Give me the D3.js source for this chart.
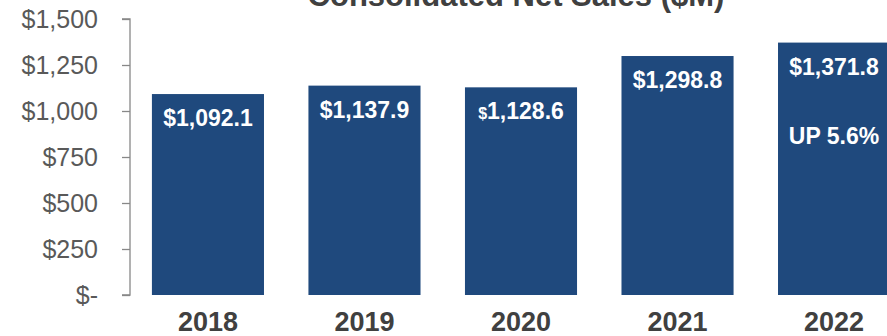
<!DOCTYPE html>
<html>
<head>
<meta charset="utf-8">
<script src="https://cdn.jsdelivr.net/npm/d3@7"></script>
<style>
  body { margin: 0; background: #fff; }
  svg { display: block; font-family: "Liberation Sans", Arial, sans-serif; }
</style>
</head>
<body>
<div id="chart"></div>
<script>
// data
const years = ['2018', '2019', '2020', '2021', '2022'];
const netSales = [1092.1, 1137.9, 1128.6, 1298.8, 1371.8];
const yTicks = [0, 250, 500, 750, 1000, 1250, 1500];
const growthNote = 'UP 5.6%';
const chartTitle = 'Consolidated Net Sales ($M)';

const width = 887, height = 336;
const barColor = '#1f497d';

const svg = d3.select('#chart').append('svg')
    .attr('width', width)
    .attr('height', height);

const x = d3.scaleBand()
    .domain(years)
    .range([130, 912])
    .paddingInner(0.284)
    .paddingOuter(0.14);

const y = d3.scaleLinear()
    .domain([0, 1500])
    .range([295, 19]);

// y axis, dollar format with "$-" for zero
const fmtTick = d => d === 0 ? '$-' : '$' + d3.format(',')(d);
const yAxis = svg.append('g')
    .attr('transform', 'translate(130,0)')
    .call(d3.axisLeft(y).tickValues(yTicks).tickFormat(fmtTick).tickSize(8).tickPadding(24));
yAxis.select('.domain').attr('stroke', '#888').attr('stroke-width', 1.3).attr('d', `M-8,${y(1500)}H0V${y(0)}H-8`);
yAxis.selectAll('.tick line').attr('stroke', '#888').attr('stroke-width', 1.3);
yAxis.selectAll('.tick text')
    .attr('fill', '#595959')
    .style('font-size', '25px')
    .attr('dy', '0.35em');

// bars
svg.selectAll('rect.bar')
  .data(netSales)
  .enter()
  .append('rect')
    .attr('class', 'bar')
    .attr('x', (d, i) => x(years[i]))
    .attr('y', d => y(d))
    .attr('width', x.bandwidth())
    .attr('height', d => y(0) - y(d))
    .attr('fill', barColor);

// value labels inside bars
const fmtVal = d3.format(',.1f');
const labels = svg.selectAll('text.val')
  .data(netSales)
  .enter()
  .append('text')
    .attr('class', 'val')
    .attr('x', (d, i) => x(years[i]) + x.bandwidth() / 2)
    .attr('y', d => y(d) + 32)
    .attr('text-anchor', 'middle')
    .attr('fill', '#fff')
    .style('font-size', '23px')
    .style('font-weight', 'bold');
labels.each(function(d, i) {
  const t = d3.select(this);
  // the 2020 label has a smaller dollar sign in the original
  t.append('tspan').style('font-size', i === 2 ? '16px' : null).text('$');
  t.append('tspan').text(fmtVal(d));
});

// growth note on last bar
const last = years.length - 1;
svg.append('text')
    .attr('x', x(years[last]) + x.bandwidth() / 2)
    .attr('y', y(netSales[last]) + 101)
    .attr('text-anchor', 'middle')
    .attr('fill', '#fff')
    .style('font-size', '23px')
    .style('font-weight', 'bold')
    .text(growthNote);

// x labels
svg.selectAll('text.year')
  .data(years)
  .enter()
  .append('text')
    .attr('class', 'year')
    .attr('x', d => x(d) + x.bandwidth() / 2)
    .attr('y', 331)
    .attr('text-anchor', 'middle')
    .attr('fill', '#404040')
    .style('font-size', '27px')
    .style('font-weight', 'bold')
    .text(d => d);

// title, partly cut off at the top
svg.append('text')
    .attr('x', 516)
    .attr('y', 6)
    .attr('text-anchor', 'middle')
    .attr('fill', '#404040')
    .style('font-size', '31px')
    .style('font-weight', 'bold')
    .text(chartTitle);
</script>
</body>
</html>
